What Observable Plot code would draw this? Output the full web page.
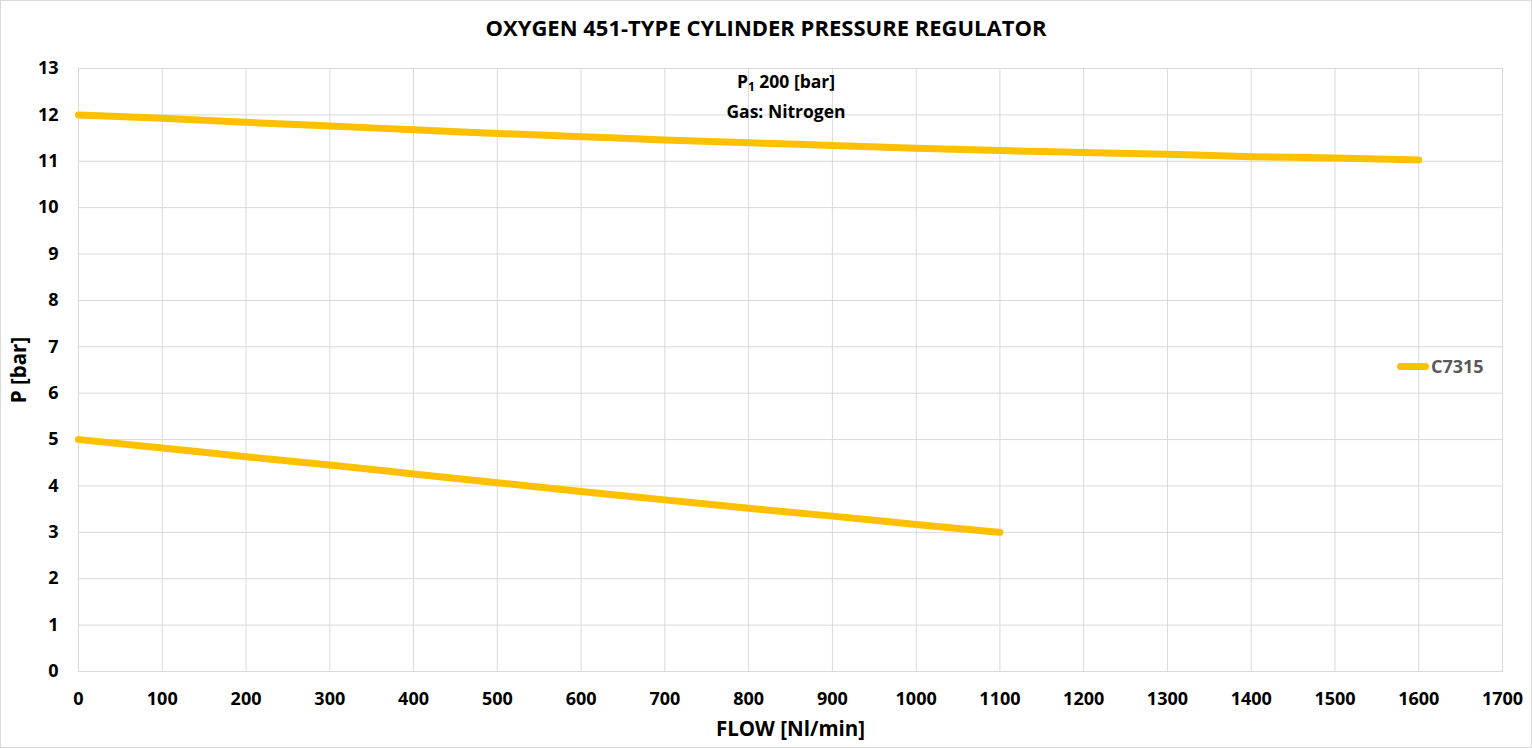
<!DOCTYPE html>
<html><head><meta charset="utf-8">
<script src="https://cdn.jsdelivr.net/npm/d3@7"></script>
<script src="https://cdn.jsdelivr.net/npm/@observablehq/plot@0.6"></script>
<style>
html,body{margin:0;padding:0;background:#fff;}
#wrap{position:relative;width:1532px;height:748px;overflow:hidden;font-family:"Open Sans",sans-serif;background:#fff;}
#title{height:50px;line-height:54px;text-align:center;font-weight:bold;font-size:22px;color:#000;white-space:nowrap;}
#sub{position:absolute;left:636px;width:300px;top:69px;text-align:center;font-weight:bold;font-size:17.5px;line-height:25px;color:#000;}
#leg-sw{position:absolute;left:1397px;top:363px;width:32px;height:7px;border-radius:3.5px;background:#FFC000;}
#leg-tx{position:absolute;left:1431px;top:356px;font-weight:bold;font-size:18px;line-height:20px;color:#595959;}
#border{position:absolute;left:0;top:0;right:0;bottom:0;border:1px solid #d9d9d9;pointer-events:none;}
#chart svg{display:block;}
#chart g[aria-label$="axis label"] text{font-size:20.5px;}
</style>
</head><body>
<div id="wrap">
  <div id="title"></div>
  <div id="chart"></div>
  <div id="sub"></div>
  <div id="leg-sw"></div>
  <div id="leg-tx"></div>
  <div id="border"></div>
</div>
<script>
const titleText = "OXYGEN 451-TYPE CYLINDER PRESSURE REGULATOR";
const subLines = ["P|1| 200 [bar]", "Gas: Nitrogen"];
const seriesName = "C7315";
const xLabel = "FLOW [Nl/min]";
const yLabel = "P [bar]";

const xTicks = [0,100,200,300,400,500,600,700,800,900,1000,1100,1200,1300,1400,1500,1600,1700];
const yTicks = [0,1,2,3,4,5,6,7,8,9,10,11,12,13];

// Upper curve (start pressure)
const flowUpper = [0,100,200,300,400,500,600,700,800,900,1000,1100,1200,1300,1400,1500,1600];
const pUpper    = [12.0,11.93,11.84,11.76,11.68,11.6,11.53,11.46,11.4,11.34,11.28,11.23,11.19,11.15,11.1,11.07,11.03];
// Lower curve
const flowLower = [0,100,200,300,400,500,600,700,800,900,1000,1100];
const pLower    = [5.0,4.82,4.63,4.45,4.26,4.07,3.88,3.7,3.52,3.35,3.17,3.0];

const data = [
  ...flowUpper.map((f,i)=>({flow:f, p:pUpper[i], curve:"upper"})),
  ...flowLower.map((f,i)=>({flow:f, p:pLower[i], curve:"lower"}))
];

document.getElementById("title").textContent = titleText;
const sub = document.getElementById("sub");
subLines.forEach(s => {
  const d = document.createElement("div");
  const parts = s.split("|");
  if (parts.length === 3) {
    d.append(parts[0]);
    const sp = document.createElement("span");
    sp.textContent = parts[1];
    sp.style.fontSize = "12px";
    sp.style.verticalAlign = "-3px";
    d.append(sp);
    d.append(parts[2]);
  } else d.textContent = s;
  sub.append(d);
});
document.getElementById("leg-tx").textContent = seriesName;

const chart = Plot.plot({
  width: 1532,
  height: 698,
  marginLeft: 78,
  marginRight: 30,
  marginTop: 18,
  marginBottom: 77,
  style: {fontFamily: "Open Sans, sans-serif", fontSize: "18px", fontWeight: "bold", color: "#000", background: "transparent"},
  x: {domain: [0,1700]},
  y: {domain: [0,13]},
  marks: [
    Plot.gridX(xTicks, {stroke: "#d9d9d9", strokeOpacity: 1}),
    Plot.gridY(yTicks, {stroke: "#d9d9d9", strokeOpacity: 1}),
    Plot.frame({stroke: "#d9d9d9"}),
    Plot.axisX({ticks: xTicks, tickSize: 0, tickPadding: 21, tickFormat: d => String(d), label: xLabel, labelAnchor: "center", labelArrow: "none", labelOffset: 64}),
    Plot.axisY({ticks: yTicks, tickSize: 0, tickPadding: 20, tickFormat: d => String(d), label: yLabel, labelAnchor: "center", labelArrow: "none", labelOffset: 67}),
    Plot.line(data, {x: "flow", y: "p", z: "curve", stroke: "#FFC000", strokeWidth: 7, strokeLinecap: "round", strokeLinejoin: "round", curve: "monotone-x"})
  ]
});
document.getElementById("chart").append(chart);
</script>
</body></html>
